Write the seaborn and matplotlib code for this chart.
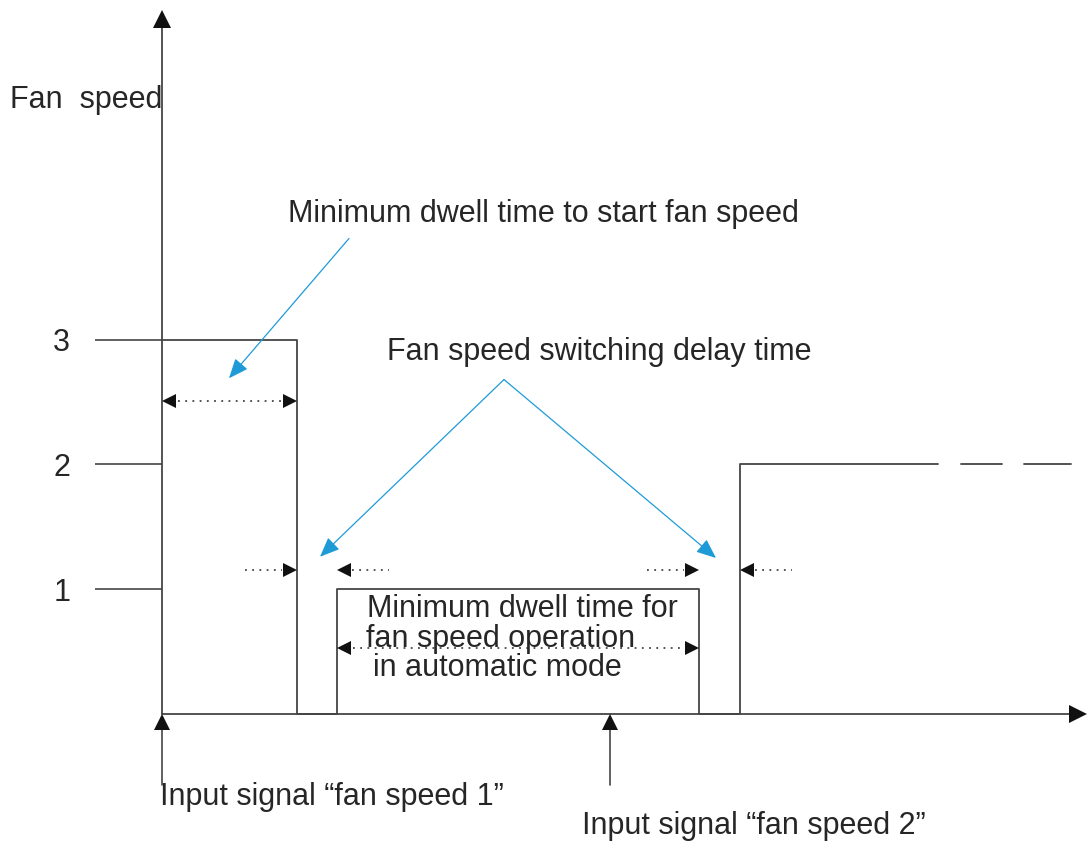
import numpy as np
import pandas as pd
import matplotlib.pyplot as plt
import seaborn as sns

# -------------------------------
# DATA (time in arbitrary units, fan speed level)
# -------------------------------
time_pts = [0, 13.5, 13.5, 17.5, 17.5, 53.7, 53.7, 57.8, 57.8, 77.6]
speed_pts = [3, 3, 0, 0, 1, 1, 0, 0, 2, 2]

dash_start = [79.9, 86.2]
dash_end = [84.0, 90.9]

input_times = [0, 44.8]
input_labels = ["Input signal \u201cfan speed 1\u201d", "Input signal \u201cfan speed 2\u201d"]

speed_ticks = [1, 2, 3]
speed_labels = ["1", "2", "3"]

t_fall3, t_rise1, t_fall1, t_rise2 = 13.5, 17.5, 53.7, 57.8

# -------------------------------
# STYLE
# -------------------------------
sns.set_theme(style="white")
plt.rcParams['font.family'] = ['Liberation Sans', 'DejaVu Sans']

LINE = '#454545'
TEXT = '#262626'
BLUE = '#1e9bd7'
FS = 22

fig = plt.figure(figsize=(10.87, 8.41), dpi=100)
ax = fig.add_axes([0, 0, 1, 1])

# signal trace
df = pd.DataFrame({'time': time_pts, 'speed': speed_pts})
sns.lineplot(data=df, x='time', y='speed', estimator=None, sort=False,
             color=LINE, lw=1.3, ax=ax)

# dashed continuation
for a, b in zip(dash_start, dash_end):
    ax.plot([a, b], [2, 2], color=LINE, lw=1.3)

ax.set_xlim(-16.2, 92.5)
ax.set_ylim(-1.0176, 5.721)
ax.set_xlabel('')
ax.set_ylabel('')
ax.set_xticks([])
ax.set_yticks(speed_ticks)
ax.set_yticklabels(speed_labels)
ax.spines['left'].set_position(('data', 0))
for s in ax.spines.values():
    s.set_visible(False)
ax.tick_params(axis='y', length=48, width=1.2, color=LINE, pad=18,
               labelsize=FS, labelcolor=TEXT, direction='out', left=True)

# axes with arrowheads
ax.plot([0, 0], [0, 5.57], color=LINE, lw=1.3)
ax.plot(0, 5.57, marker='^', ms=13, color='#111', mew=0, clip_on=False)
ax.plot([0, 91.6], [0, 0], color=LINE, lw=1.3)
ax.plot(91.6, 0, marker='>', ms=13, color='#111', mew=0, clip_on=False)

# input signal arrows
for t in input_times:
    ax.plot([t, t], [-0.57, -0.06], color=LINE, lw=1.2)
    ax.plot(t, -0.065, marker='^', ms=12, color='#111', mew=0)

for t, lab, y in zip(input_times, input_labels, [-0.665, -0.90]):
    ax.text(t - 0.2 if t == 0 else t - 2.8, y, lab, ha='left', va='center',
            fontsize=FS, color=TEXT)

# dotted dimension arrows
HL = 0.7  # half arrow head length in time units


def head(t_tip, y, direction):
    if direction == 'right':
        ax.plot(t_tip - HL, y, marker='>', ms=10, color='#111', mew=0)
    else:
        ax.plot(t_tip + HL, y, marker='<', ms=10, color='#111', mew=0)


def dots(a, b, y):
    ax.plot([a, b], [y, y], color=LINE, lw=1.3, ls=(0, (1, 3)))


# top: minimum dwell at speed 3
head(0, 2.51, 'left')
head(t_fall3, 2.51, 'right')
dots(1.6, t_fall3 - 1.5, 2.51)

# switching delays
for t_a, t_b in [(t_fall3, t_rise1), (t_fall1, t_rise2)]:
    head(t_a, 1.15, 'right')
    dots(t_a - 5.2, t_a - 1.5, 1.15)
    head(t_b, 1.15, 'left')
    dots(t_b + 1.5, t_b + 5.2, 1.15)

# minimum dwell in automatic mode
head(t_rise1, 0.53, 'left')
head(t_fall1, 0.53, 'right')
dots(t_rise1 + 1.6, t_fall1 - 1.5, 0.53)

# blue pointer arrows
bprops = dict(arrowstyle='-|>,head_length=0.6,head_width=0.25', color=BLUE,
              lw=0.9, mutation_scale=20, shrinkA=0, shrinkB=0)
ax.annotate('', xy=(6.7, 2.69), xytext=(18.7, 3.81), arrowprops=bprops)
ax.annotate('', xy=(15.8, 1.26), xytext=(34.2, 2.68), arrowprops=bprops)
ax.annotate('', xy=(55.4, 1.25), xytext=(34.2, 2.68), arrowprops=bprops)

# texts
ax.text(-15.2, 4.92, "Fan  speed", ha='left', va='center', fontsize=FS, color=TEXT)
ax.text(12.6, 4.01, "Minimum dwell time to start fan speed", ha='left',
        va='center', fontsize=FS, color=TEXT)
ax.text(22.5, 2.90, "Fan speed switching delay time", ha='left',
        va='center', fontsize=FS, color=TEXT)
ax.text(20.5, 0.84, "Minimum dwell time for", ha='left', va='center',
        fontsize=FS, color=TEXT)
ax.text(20.4, 0.60, "fan speed operation", ha='left', va='center',
        fontsize=FS, color=TEXT)
ax.text(21.1, 0.365, "in automatic mode", ha='left', va='center',
        fontsize=FS, color=TEXT)

plt.savefig("out.png", dpi=100)
